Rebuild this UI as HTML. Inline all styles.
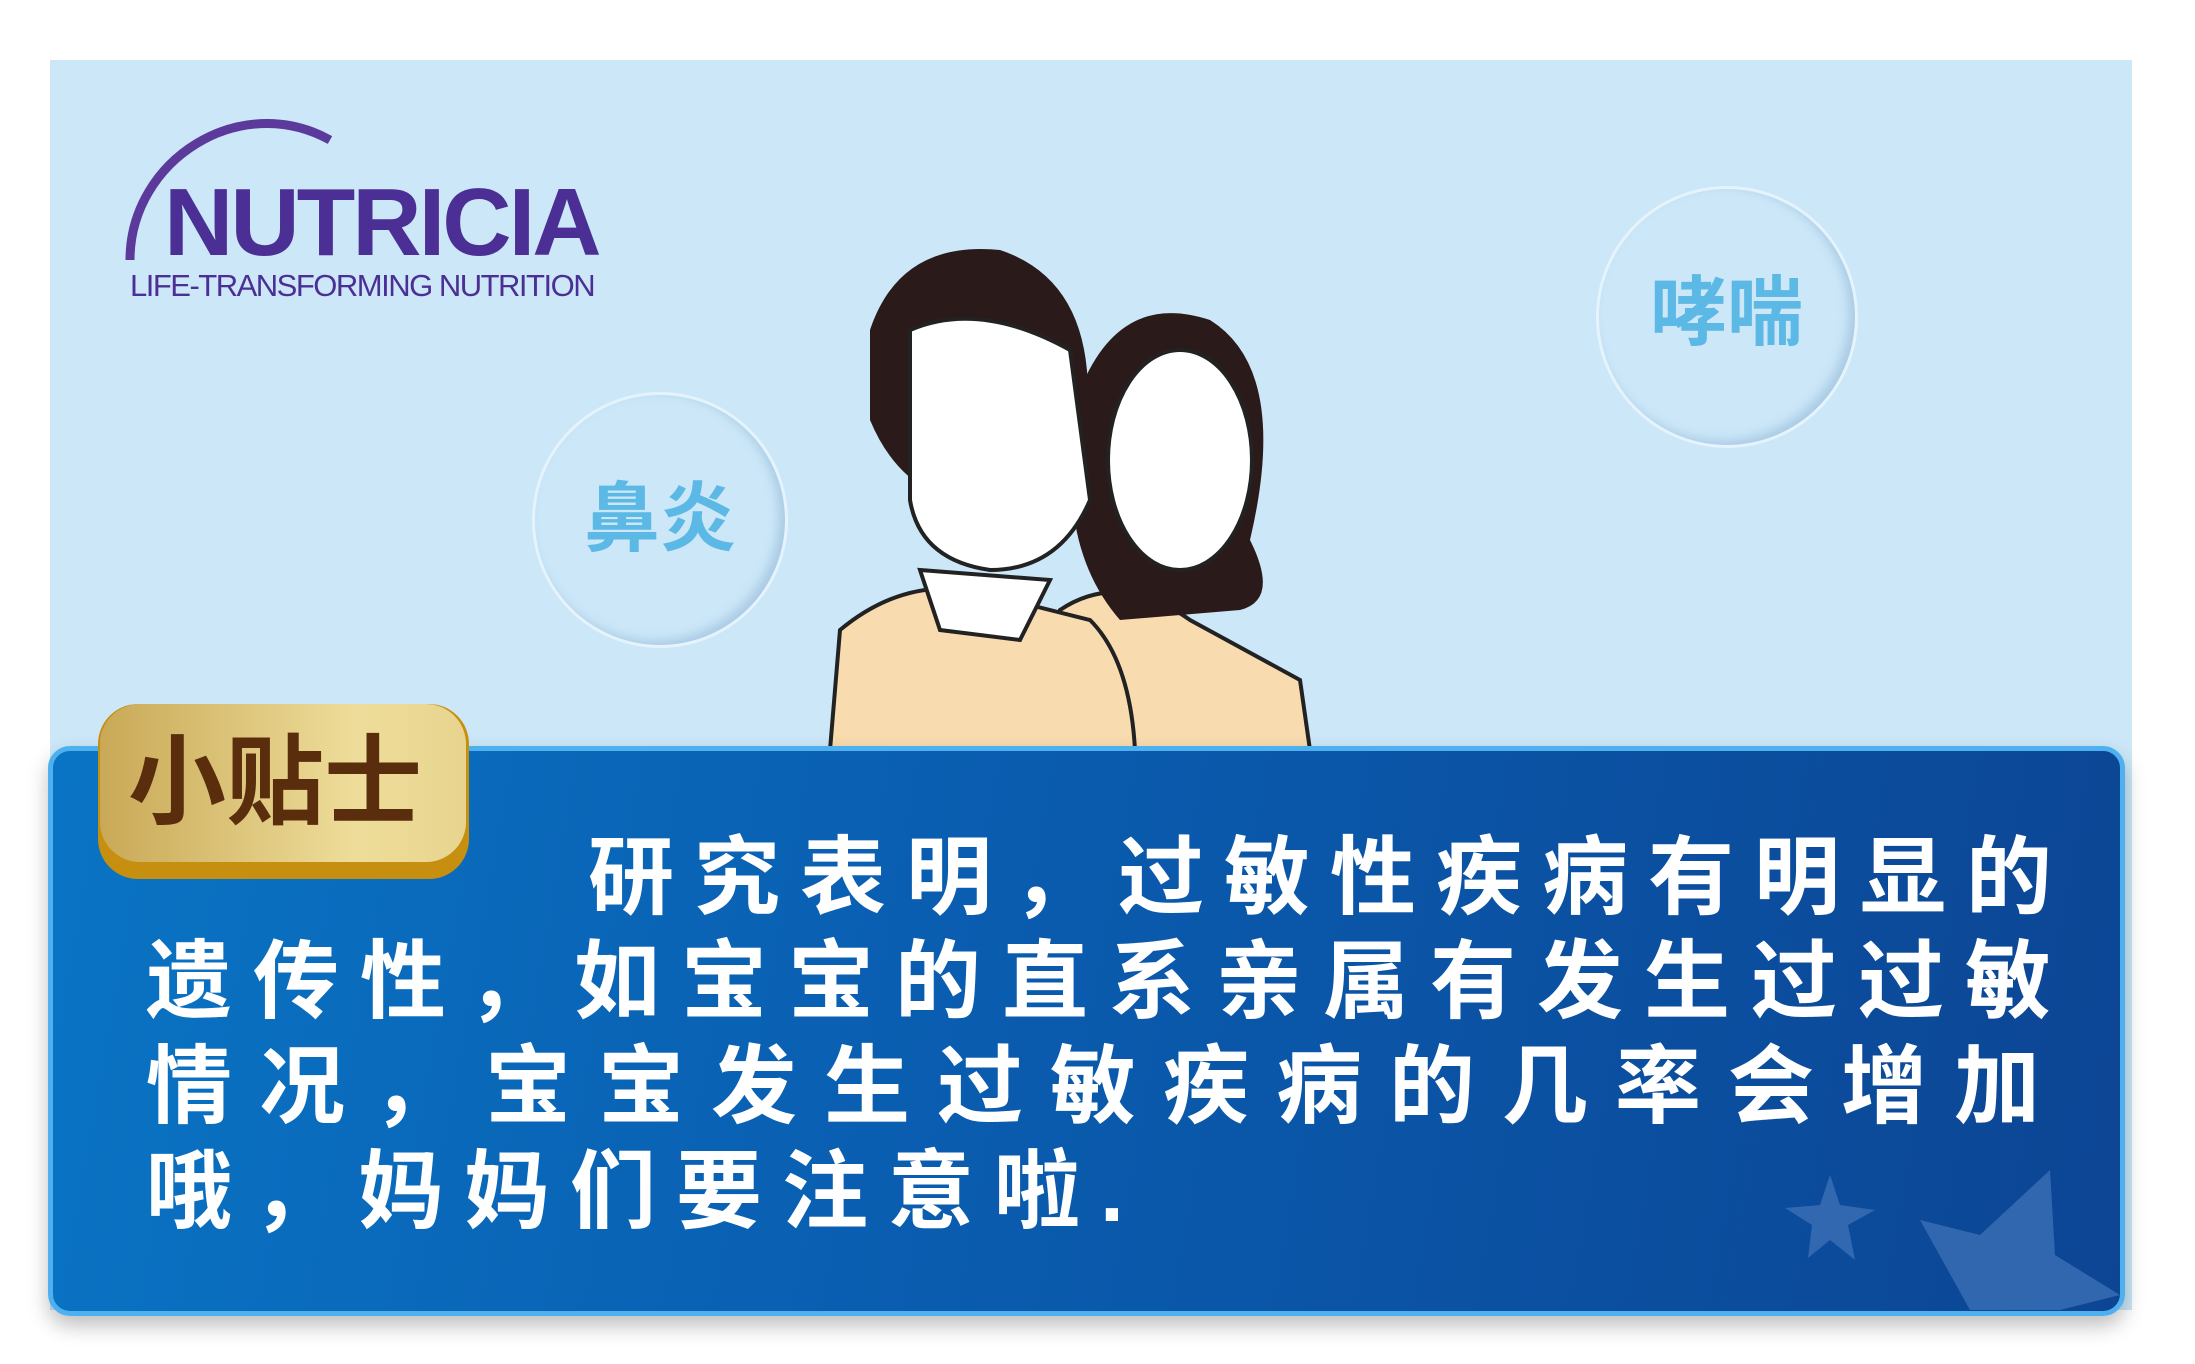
<!DOCTYPE html>
<html><head><meta charset="utf-8">
<style>
body{margin:0;width:2195px;height:1364px;background:#fff;position:relative;overflow:hidden;font-family:"Liberation Sans","Noto Sans CJK SC",sans-serif}
.abs{position:absolute}
#panel{left:50px;top:60px;width:2082px;height:1250px;background:#cbe7f8}
#box{left:48px;top:746px;width:2077px;height:570px;border-radius:22px;background:linear-gradient(100deg,#0a74c4 0%,#0a5caf 45%,#0c4594 100%);border:5px solid #4fb0ef;box-sizing:border-box;box-shadow:0 10px 20px rgba(0,0,0,.25)}
#badge{left:98px;top:704px;width:371px;height:175px;border-radius:40px;background:#c68f10}
#badge-top{left:100px;top:704px;width:366px;height:158px;border-radius:40px;background:linear-gradient(90deg,#c9a957,#eedd9a 70%,#e8d48f)}
#badge-text{left:110px;top:722px;width:330px;text-align:center;font-size:98px;font-weight:bold;color:#5a2e0c;line-height:120px}
.line{font-size:86px;color:#fff;line-height:105px;white-space:nowrap;letter-spacing:20px;font-weight:bold}
.bub{border-radius:50%;border:3px solid rgba(255,255,255,.5);box-shadow:inset -6px -4px 10px rgba(120,160,200,.4);text-align:center;color:#5cb8e4;font-weight:bold}
</style></head><body>
<div class="abs" id="panel"></div>
<div class="abs" style="left:120px;top:100px;width:500px;height:220px">
<svg width="260" height="170" style="position:absolute;left:0;top:0"><path d="M10 160 C 10 60 120 -10 210 40" stroke="#5b3a9c" stroke-width="9" fill="none"/></svg>
<div class="abs" style="left:44px;top:68px;font-size:96px;font-weight:bold;color:#4c2f94;letter-spacing:-3px">NUTRICIA</div>
<div class="abs" style="left:10px;top:168px;font-size:31px;color:#4c2f94;letter-spacing:-1.5px">LIFE-TRANSFORMING NUTRITION</div>
</div>
<div class="abs bub" style="left:532px;top:392px;width:250px;height:250px;line-height:250px;font-size:76px">鼻炎</div>
<div class="abs bub" style="left:1596px;top:186px;width:256px;height:256px;line-height:250px;font-size:76px">哮喘</div>
<svg class="abs" style="left:820px;top:240px" width="540" height="510">
<path d="M232 680 L240 370 Q300 330 370 380 L480 440 L490 510 L232 510Z" fill="#f8dcaf" stroke="#222" stroke-width="4"/>
<path d="M260 150 Q300 50 390 80 Q470 130 430 300 Q460 360 420 370 L300 380 Q230 300 260 150Z" fill="#2b1a1a"/>
<ellipse cx="360" cy="220" rx="72" ry="110" fill="#fff" stroke="#222" stroke-width="4"/>
<path d="M10 510 L20 390 Q80 340 150 350 L270 380 Q310 420 315 510Z" fill="#f8dcaf" stroke="#222" stroke-width="4"/>
<path d="M50 90 Q80 0 180 10 Q270 40 268 160 L255 190 L250 250 Q100 300 50 180Z" fill="#2b1a1a"/>
<path d="M90 90 Q160 60 250 110 L270 260 Q240 330 170 330 Q100 320 90 260Z" fill="#fff" stroke="#222" stroke-width="4"/>
<path d="M100 330 L120 390 L200 400 L230 340Z" fill="#fff" stroke="#222" stroke-width="4"/>
</svg>
<div class="abs" id="box"></div>
<svg class="abs" style="left:1780px;top:1160px" width="350" height="150">
<polygon points="50,15 60,45 95,50 68,65 75,100 50,80 28,98 32,65 5,48 40,45" fill="#3b6fb5" opacity=".8"/>
<polygon points="270,10 275,95 340,135 280,150 190,150 140,60 200,75" fill="#3b6fb5" opacity=".8"/>
</svg>
<div class="abs" id="badge"></div>
<div class="abs" id="badge-top"></div>
<div class="abs" id="badge-text">小贴士</div>
<div class="abs line" style="left:588px;top:826px">研究表明，过敏性疾病有明显的</div>
<div class="abs line" style="left:146px;top:930px;letter-spacing:21px">遗传性，如宝宝的直系亲属有发生过过敏</div>
<div class="abs line" style="left:146px;top:1035px;letter-spacing:27px">情况，宝宝发生过敏疾病的几率会增加</div>
<div class="abs line" style="left:146px;top:1140px">哦，妈妈们要注意啦.</div>
</body></html>
